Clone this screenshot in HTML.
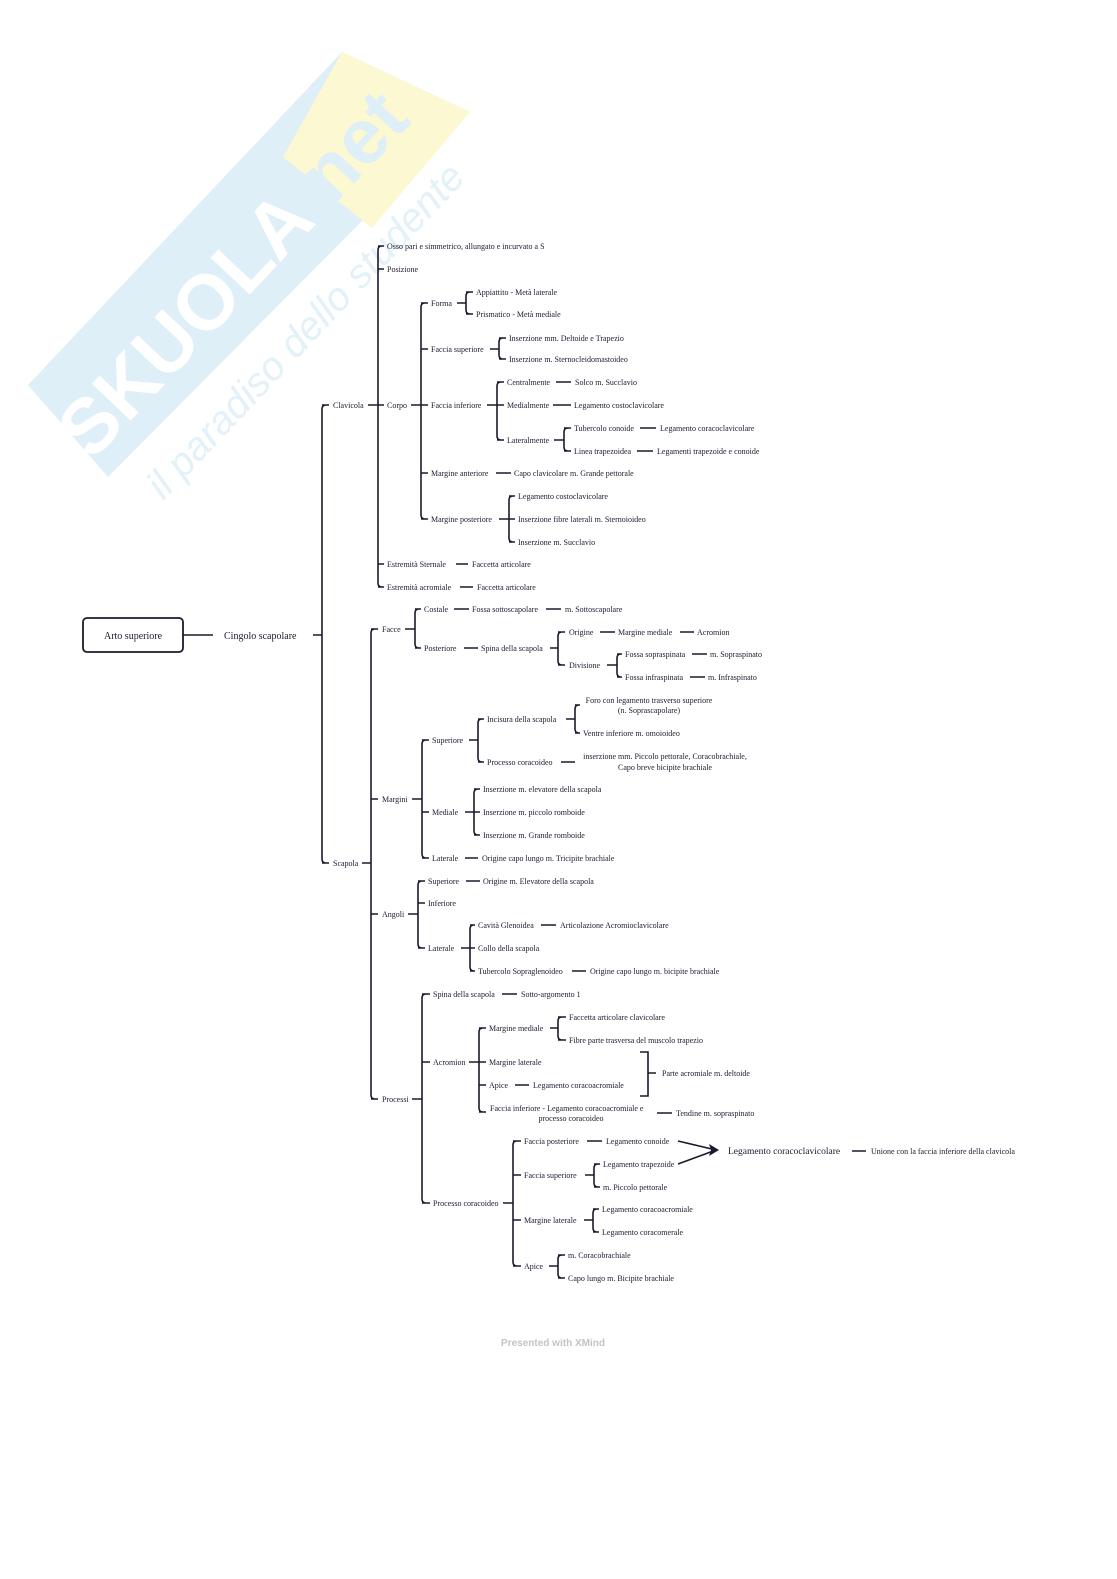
<!DOCTYPE html>
<html><head><meta charset="utf-8"><style>
html,body{margin:0;padding:0;background:#fff}
svg{display:block}
text{font-family:"Liberation Serif",serif;font-size:8px;fill:#1a1a2e}
</style></head><body>
<svg id="s" width="1117" height="1579" viewBox="0 0 1117 1579" xmlns="http://www.w3.org/2000/svg">
<polygon points="28,385 342,52 470,112 108,477" fill="#deeff8"/>
<polygon points="283,157 342,52 470,112 372,228" fill="#fbf8d2"/>
<text x="0" y="0" transform="translate(252,292) rotate(-46.7)" text-anchor="middle" style="font-family:'Liberation Sans',sans-serif;font-weight:bold;font-size:78px;fill:#fff">SKUOLA<tspan style="fill:#deeff8">.net</tspan></text>
<text x="0" y="0" transform="translate(315,340) rotate(-46.7)" text-anchor="middle" style="font-family:'Liberation Sans',sans-serif;font-style:italic;font-size:40px;fill:#e3f1f9">il paradiso dello studente</text>
<g id="lines" stroke="#1a1a2e" stroke-width="1.6" fill="none"></g>
<rect x="83" y="618" width="100" height="34" rx="4" fill="none" stroke="#1a1a2e" stroke-width="1.8"/>
<text x="133" y="639" text-anchor="middle" style="font-size:10px">Arto superiore</text>
<text x="224" y="639" style="font-size:10px">Cingolo scapolare</text>
<text x="333" y="408">Clavicola</text>
<text x="387" y="249">Osso pari e simmetrico, allungato e incurvato a S</text>
<text x="387" y="272">Posizione</text>
<text x="387" y="408">Corpo</text>
<text x="387" y="567">Estremità Sternale</text><text x="472" y="567">Faccetta articolare</text>
<text x="387" y="590">Estremità acromiale</text><text x="477" y="590">Faccetta articolare</text>
<text x="431" y="306">Forma</text>
<text x="431" y="352">Faccia superiore</text>
<text x="431" y="408">Faccia inferiore</text>
<text x="431" y="476">Margine anteriore</text><text x="514" y="476">Capo clavicolare m. Grande pettorale</text>
<text x="431" y="522">Margine posteriore</text>
<text x="476" y="295">Appiattito - Metà laterale</text>
<text x="476" y="317">Prismatico - Metà mediale</text>
<text x="509" y="341">Inserzione mm. Deltoide e Trapezio</text>
<text x="509" y="362">Inserzione m. Sternocleidomastoideo</text>
<text x="507" y="385">Centralmente</text><text x="575" y="385">Solco m. Succlavio</text>
<text x="507" y="408">Medialmente</text><text x="574" y="408">Legamento costoclavicolare</text>
<text x="507" y="443">Lateralmente</text>
<text x="574" y="431">Tubercolo conoide</text><text x="660" y="431">Legamento coracoclavicolare</text>
<text x="574" y="454">Linea trapezoidea</text><text x="657" y="454">Legamenti trapezoide e conoide</text>
<text x="518" y="499">Legamento costoclavicolare</text>
<text x="518" y="522">Inserzione fibre laterali m. Sternoioideo</text>
<text x="518" y="545">Inserzione m. Succlavio</text>
<text x="333" y="866">Scapola</text>
<text x="382" y="632">Facce</text>
<text x="382" y="802">Margini</text>
<text x="382" y="917">Angoli</text>
<text x="382" y="1102">Processi</text>
<text x="424" y="612">Costale</text><text x="472" y="612">Fossa sottoscapolare</text><text x="565" y="612">m. Sottoscapolare</text>
<text x="424" y="651">Posteriore</text><text x="481" y="651">Spina della scapola</text>
<text x="569" y="635">Origine</text><text x="618" y="635">Margine mediale</text><text x="697" y="635">Acromion</text>
<text x="569" y="668">Divisione</text>
<text x="625" y="657">Fossa sopraspinata</text><text x="710" y="657">m. Sopraspinato</text>
<text x="625" y="680">Fossa infraspinata</text><text x="708" y="680">m. Infraspinato</text>
<text x="432" y="743">Superiore</text>
<text x="432" y="815">Mediale</text>
<text x="432" y="861">Laterale</text><text x="482" y="861">Origine capo lungo m. Tricipite brachiale</text>
<text x="487" y="722">Incisura della scapola</text>
<text x="649" y="703" text-anchor="middle">Foro con legamento trasverso superiore</text>
<text x="649" y="713" text-anchor="middle">(n. Soprascapolare)</text>
<text x="583" y="736">Ventre inferiore m. omoioideo</text>
<text x="487" y="765">Processo coracoideo</text>
<text x="665" y="759" text-anchor="middle">inserzione mm. Piccolo pettorale, Coracobrachiale,</text>
<text x="665" y="770" text-anchor="middle">Capo breve bicipite brachiale</text>
<text x="483" y="792">Inserzione m. elevatore della scapola</text>
<text x="483" y="815">Inserzione m. piccolo romboide</text>
<text x="483" y="838">Inserzione m. Grande romboide</text>
<text x="428" y="884">Superiore</text><text x="483" y="884">Origine m. Elevatore della scapola</text>
<text x="428" y="906">Inferiore</text>
<text x="428" y="951">Laterale</text>
<text x="478" y="928">Cavità Glenoidea</text><text x="560" y="928">Articolazione Acromioclavicolare</text>
<text x="478" y="951">Collo della scapola</text>
<text x="478" y="974">Tubercolo Sopraglenoideo</text><text x="590" y="974">Origine capo lungo m. bicipite brachiale</text>
<text x="433" y="997">Spina della scapola</text><text x="521" y="997">Sotto-argomento 1</text>
<text x="433" y="1065">Acromion</text>
<text x="489" y="1031">Margine mediale</text>
<text x="569" y="1020">Faccetta articolare clavicolare</text>
<text x="569" y="1043">Fibre parte trasversa del muscolo trapezio</text>
<text x="489" y="1065">Margine laterale</text>
<text x="489" y="1088">Apice</text><text x="533" y="1088">Legamento coracoacromiale</text>
<text x="490" y="1111">Faccia inferiore - Legamento coracoacromiale e</text>
<text x="571" y="1121" text-anchor="middle">processo coracoideo</text>
<text x="676" y="1116">Tendine m. sopraspinato</text>
<text x="662" y="1076">Parte acromiale m. deltoide</text>
<text x="433" y="1206">Processo coracoideo</text>
<text x="524" y="1144">Faccia posteriore</text><text x="606" y="1144">Legamento conoide</text>
<text x="524" y="1178">Faccia superiore</text>
<text x="603" y="1167">Legamento trapezoide</text>
<text x="603" y="1190">m. Piccolo pettorale</text>
<text x="524" y="1223">Margine laterale</text>
<text x="602" y="1212">Legamento coracoacromiale</text>
<text x="602" y="1235">Legamento coracomerale</text>
<text x="524" y="1269">Apice</text>
<text x="568" y="1258">m. Coracobrachiale</text>
<text x="568" y="1281">Capo lungo m. Bicipite brachiale</text>
<text x="728" y="1154" style="font-size:9.5px">Legamento coracoclavicolare</text>
<text x="871" y="1154">Unione con la faccia inferiore della clavicola</text>
<text x="553" y="1346" text-anchor="middle" style="font-family:'Liberation Sans',sans-serif;font-weight:bold;font-size:10px;fill:#c4c4c4">Presented with XMind</text>
</svg>
<script>
var g=document.getElementById('lines'),d='';
function L(a,b,y){d+='M'+a+' '+y+'H'+b;}
function B(px,py,x,ys,cx){
  if(px!==null)L(px,x,py);
  var t=ys[0],b=ys[ys.length-1],r=4;
  d+='M'+(x+r)+' '+t+'Q'+x+' '+t+' '+x+' '+(t+r)+'V'+(b-r)+'Q'+x+' '+b+' '+(x+r)+' '+b;
  ys.forEach(function(y){d+='M'+x+' '+y+'H'+(cx-2);});
}
L(183,213,635);
B(313,635,322,[405,863],331);
B(368,405,378,[246,269,405,564,587],386);
L(456,468,564);L(460,473,587);
B(411,405,421,[303,349,405,473,519],430);
B(457,303,466,[292,314],475);
B(490,349,499,[338,359],508);
B(487,405,497,[382,405,440],506);
L(556,571,382);L(553,571,405);
B(554,440,564,[428,451],573);
L(640,656,428);L(637,653,451);
L(496,511,473);
B(499,519,509,[496,519,542],517);
B(362,863,371,[629,799,914,1099],380);
B(405,629,415,[609,648],423);
L(454,469,609);L(546,561,609);
L(464,478,648);
B(550,648,558,[632,665],567);
L(600,615,632);L(680,694,632);
B(607,665,617,[654,677],624);
L(692,707,654);L(690,705,677);
B(412,799,422,[740,812,858],431);
B(469,740,478,[719,762],486);
B(566,719,575,[705,733],582);
L(561,575,762);
B(465,812,474,[789,812,835],482);
L(465,478,858);
B(408,914,418,[881,903,948],427);
L(466,480,881);
B(461,948,470,[925,948,971],477);
L(541,556,925);L(572,586,971);
B(412,1099,422,[994,1062,1203],432);
L(502,517,994);
B(469,1062,479,[1028,1062,1085,1112],488);
B(550,1028,558,[1017,1040],568);
L(515,529,1085);L(657,672,1113);
d+='M640 1052H648V1096H640M648 1073H656';
B(503,1203,513,[1141,1175,1220,1266],523);
L(587,602,1141);
B(585,1175,594,[1164,1187],602);
B(584,1220,593,[1209,1232],601);
B(549,1266,558,[1255,1278],567);
d+='M678 1141L716 1150M678 1164L716 1150';
L(852,866,1151);
var p=document.createElementNS('http://www.w3.org/2000/svg','path');p.setAttribute('d',d);g.appendChild(p);
var a=document.createElementNS('http://www.w3.org/2000/svg','path');a.setAttribute('d','M719 1150L709 1144L711 1150L709 1156Z');a.setAttribute('fill','#1a1a2e');a.setAttribute('stroke','none');g.appendChild(a);
</script>
</body></html>
